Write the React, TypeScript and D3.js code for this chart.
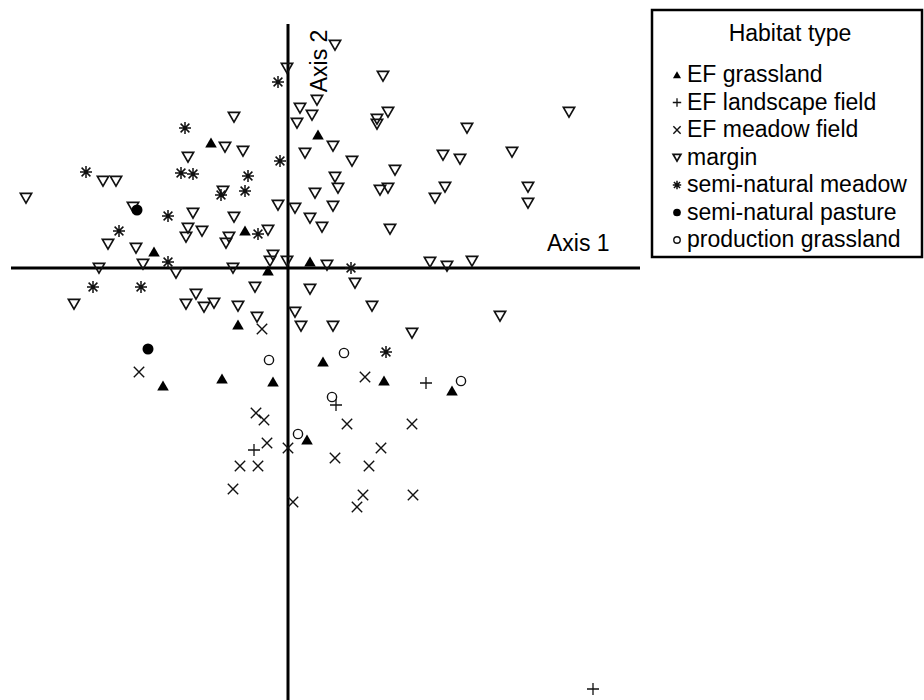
import React from "react";
import * as d3 from "d3";

// Ordination scores (Axis 1, Axis 2) per habitat type
const efGrassland: [number, number][] = [
  [-0.77, 1.25], [0.30, 1.33], [-0.43, 0.37], [-1.34, 0.16], [-0.20, -0.03], [0.22, 0.06],
  [-0.50, -0.57], [0.35, -0.94], [-1.25, -1.18], [-0.66, -1.11], [-0.15, -1.14], [0.96, -1.13],
  [1.64, -1.23], [0.19, -1.72],
];
const efLandscapeField: [number, number][] = [
  [1.38, -1.15], [0.48, -1.37], [-0.34, -1.82], [3.05, -4.21],
];
const efMeadowField: [number, number][] = [
  [-0.26, -0.61], [-1.49, -1.04], [0.77, -1.09], [-0.32, -1.45], [-0.24, -1.52], [0.59, -1.56],
  [1.24, -1.56], [-0.21, -1.75], [0.00, -1.80], [0.93, -1.80], [0.47, -1.90], [0.81, -1.98],
  [-0.48, -1.98], [-0.30, -1.98], [-0.55, -2.21], [0.05, -2.34], [0.75, -2.27], [0.69, -2.39],
  [1.25, -2.27],
];
const margin: [number, number][] = [
  [-0.01, 2.00], [0.47, 2.23], [0.95, 1.92], [0.29, 1.68], [0.12, 1.60], [0.24, 1.53],
  [0.09, 1.45], [1.00, 1.56], [0.89, 1.49], [0.89, 1.44], [2.81, 1.56], [1.79, 1.40],
  [0.45, 1.22], [0.17, 1.15], [0.64, 1.07], [1.55, 1.13], [1.72, 1.09], [2.24, 1.16],
  [1.07, 0.98], [0.47, 0.91], [0.50, 0.80], [0.27, 0.75], [0.92, 0.78], [1.00, 0.80],
  [1.57, 0.81], [1.47, 0.70], [2.40, 0.81], [2.40, 0.65], [0.45, 0.62], [0.07, 0.60],
  [0.22, 0.50], [0.34, 0.41], [1.02, 0.39], [-0.54, 1.51], [-0.63, 1.21], [-0.45, 1.17],
  [-1.00, 1.11], [-1.85, 0.87], [-1.72, 0.87], [-2.62, 0.70], [-0.65, 0.77], [-0.10, 0.63],
  [-1.55, 0.61], [-0.95, 0.55], [-0.54, 0.51], [-1.00, 0.40], [-1.02, 0.31], [-0.86, 0.37],
  [-0.20, 0.38], [-1.80, 0.24], [-1.52, 0.20], [-0.59, 0.31], [-0.62, 0.25], [-1.45, 0.04],
  [-1.89, 0.00], [-1.12, -0.05], [-0.55, 0.00], [-0.15, 0.13], [-0.18, 0.07], [-0.01, 0.07],
  [-0.33, -0.19], [-2.14, -0.36], [-0.92, -0.26], [-1.02, -0.36], [-0.84, -0.39], [-0.74, -0.35],
  [-0.50, -0.38], [-0.31, -0.49], [0.07, -0.44], [0.13, -0.58], [0.39, 0.03], [1.42, 0.06],
  [1.59, 0.02], [1.84, 0.07], [0.67, -0.15], [0.22, -0.21], [0.84, -0.38], [0.45, -0.58],
  [2.12, -0.48], [1.24, -0.65],
];
const semiNaturalMeadow: [number, number][] = [
  [-0.10, 1.86], [-1.03, 1.40], [-0.08, 1.07], [-2.02, 0.96], [-1.07, 0.95], [-0.95, 0.94],
  [-0.40, 0.92], [-0.43, 0.77], [-0.67, 0.73], [-1.20, 0.52], [-1.69, 0.37], [-0.30, 0.34],
  [-1.20, 0.06], [-1.95, -0.19], [-1.47, -0.19], [0.63, 0.00], [0.98, -0.84],
];
const semiNaturalPasture: [number, number][] = [[-1.51, 0.58], [-1.40, -0.81]];
const productionGrassland: [number, number][] = [
  [-0.19, -0.92], [0.56, -0.85], [1.73, -1.13], [0.44, -1.29], [0.10, -1.66],
];

const habitatLabels = [
  "EF grassland",
  "EF landscape field",
  "EF meadow field",
  "margin",
  "semi-natural meadow",
  "semi-natural pasture",
  "production grassland",
];
const habitatSymbols = ["triUp", "plus", "cross", "triDown", "star", "dot", "circle"];
const habitatData = [
  efGrassland, efLandscapeField, efMeadowField, margin,
  semiNaturalMeadow, semiNaturalPasture, productionGrassland,
];

const xDomain: [number, number] = [-2.77, 3.52];
const yDomain: [number, number] = [2.44, -4.32];

const FONT = "'Liberation Sans', Arial, Helvetica, sans-serif";

function Symbol({ kind, x, y, s = 1 }: { kind: string; x: number; y: number; s?: number }) {
  const t = `translate(${x},${y}) scale(${s})`;
  const stroke = "#111";
  switch (kind) {
    case "triUp":
      return <path transform={t} d="M0,-5.5L5.8,4.5L-5.8,4.5Z" fill="#000" />;
    case "triDown":
      return (
        <path transform={t} d="M-5.6,-4.6L5.6,-4.6L0,5.1Z" fill="none" stroke={stroke} strokeWidth={1.7 / s} strokeLinejoin="miter" />
      );
    case "plus":
      return (
        <path transform={t} d="M-6,0L6,0M0,-6L0,6" stroke={stroke} strokeWidth={1.3 / s} fill="none" />
      );
    case "cross":
      return (
        <path transform={t} d="M-5.2,-5.2L5.2,5.2M-5.2,5.2L5.2,-5.2" stroke={stroke} strokeWidth={1.4 / s} fill="none" />
      );
    case "star":
      return (
        <path
          transform={t}
          d="M-6,0L6,0M0,-6L0,6M-4.4,-4.4L4.4,4.4M-4.4,4.4L4.4,-4.4"
          stroke={stroke}
          strokeWidth={1.5 / s}
          fill="none"
        />
      );
    case "dot":
      return <circle transform={t} r={5.5} fill="#000" />;
    case "circle":
      return <circle transform={t} r={4.6} fill="none" stroke={stroke} strokeWidth={1.4 / s} />;
    default:
      return null;
  }
}

export default function App() {
  const W = 924;
  const H = 700;
  const xScale = d3.scaleLinear().domain(xDomain).range([11, 640]);
  const yScale = d3.scaleLinear().domain(yDomain).range([24, 700]);
  const x0 = xScale(0);
  const y0 = yScale(0);

  const legendX = 652;
  const legendY = 10;
  const legendW = 270;
  const rowH = 27.5;
  const firstBaseline = 82;

  return (
    <svg
      width={W}
      height={H}
      style={{ position: "absolute", left: 0, top: 0, background: "#fff" }}
      fontFamily={FONT}
    >
      <rect x={0} y={0} width={W} height={H} fill="#fff" />
      {/* axes */}
      <line x1={xScale(xDomain[0])} x2={xScale(xDomain[1])} y1={y0} y2={y0} stroke="#000" strokeWidth={3} />
      <line x1={x0} x2={x0} y1={yScale(yDomain[0])} y2={yScale(yDomain[1])} stroke="#000" strokeWidth={3} />
      <text x={547} y={251} fontSize={23} fill="#000">Axis 1</text>
      <text transform={`translate(${x0 + 39},61) rotate(-90)`} textAnchor="middle" fontSize={23} fill="#000">
        Axis 2
      </text>

      {/* points */}
      {habitatData.map((pts, gi) =>
        pts.map((p, i) => (
          <Symbol key={`${gi}-${i}`} kind={habitatSymbols[gi]} x={xScale(p[0])} y={yScale(p[1])} />
        ))
      )}

      {/* legend */}
      <rect
        x={legendX}
        y={legendY}
        width={legendW}
        height={firstBaseline + rowH * 6 + 10 - legendY}
        fill="#fff"
        stroke="#000"
        strokeWidth={2.5}
      />
      <text x={790} y={41} textAnchor="middle" fontSize={23} fill="#000">Habitat type</text>
      {habitatLabels.map((lab, i) => {
        const by = firstBaseline + i * rowH;
        return (
          <g key={lab}>
            <Symbol kind={habitatSymbols[i]} x={677} y={by - 7} s={0.7} />
            <text x={687} y={by} fontSize={23} fill="#000">{lab}</text>
          </g>
        );
      })}
    </svg>
  );
}
